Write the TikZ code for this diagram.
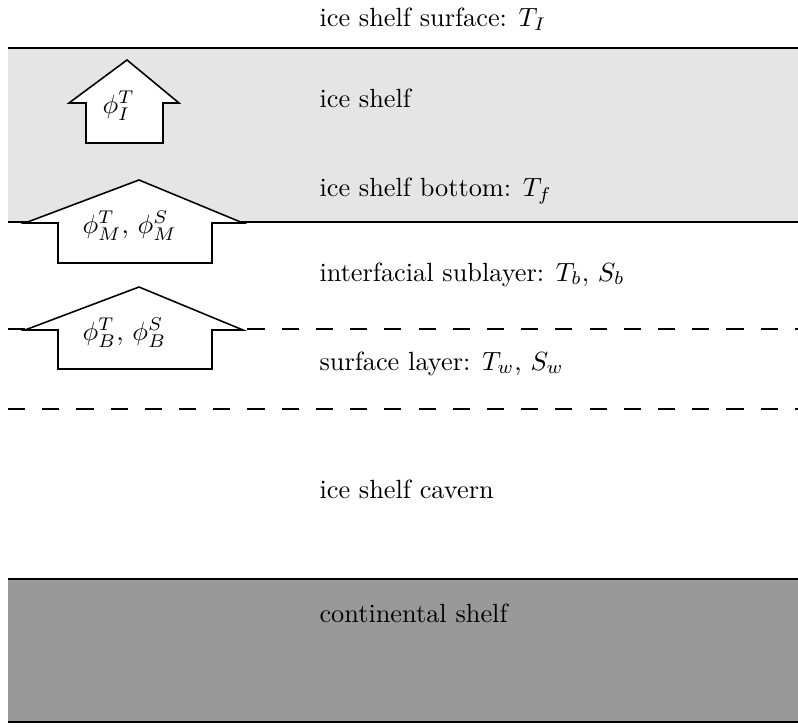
\documentclass[tikz,border=0pt]{standalone}
\usepackage{tikz}
\begin{document}
\begin{tikzpicture}[x=0.38pt,y=-0.38pt,
  layerline/.style={line width=0.95pt},
  dashline/.style={line width=0.9pt,dash pattern=on 6.5pt off 6.5pt},
  fluxarrow/.style={draw=black,fill=white,line width=0.6pt,line join=miter},
  lbl/.style={anchor=base west,inner sep=0pt},
  flbl/.style={anchor=west,inner sep=0pt}]
\useasboundingbox (0,0) rectangle (798,727);
% bands
\fill[gray!20] (8,48) rectangle (798,222);
\fill[black!40] (8,579) rectangle (798,722);
% lines
\draw[layerline] (8,48) -- (798,48);
\draw[layerline] (8,222) -- (798,222);
\draw[dashline] (8,329) -- (798,329);
\draw[dashline] (8,409) -- (798,409);
\draw[layerline] (8,579) -- (798,579);
\draw[layerline] (8,722) -- (798,722);
% arrows
\draw[fluxarrow] (86,143) -- (86,103) -- (69,103) -- (127,60) -- (179,103) -- (163,103) -- (163,143) -- cycle;
\draw[fluxarrow] (58,263) -- (58,223) -- (25,223) -- (139,180) -- (243,223) -- (212,223) -- (212,263) -- cycle;
\draw[fluxarrow] (58,369) -- (58,330) -- (25,330) -- (139,287) -- (243,330) -- (212,330) -- (212,369) -- cycle;
\node[flbl] (fI) at (102,106) {$\phi^T_I$};
\node[flbl] (fM) at (82,226) {$\phi^T_M,\, \phi^S_M$};
\node[flbl] (fB) at (82,333) {$\phi^T_B,\, \phi^S_B$};
% labels
\node[lbl] (surf) at (319,27) {ice shelf surface: $T_I$};
\node[lbl] (shelf) at (319,108) {ice shelf};
\node[lbl] (bottom) at (319,197) {ice shelf bottom: $T_f$};
\node[lbl] (inter) at (319,281) {interfacial sublayer: $T_b$, $S_b$};
\node[lbl] (slayer) at (319,370) {surface layer: $T_w$, $S_w$};
\node[lbl] (cavern) at (319,498) {ice shelf cavern};
\node[lbl] (cont) at (319,622) {continental shelf};
\end{tikzpicture}
\end{document}
